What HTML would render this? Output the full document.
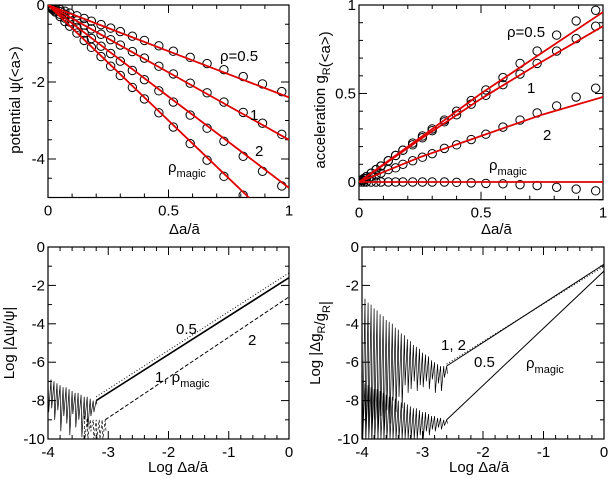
<!DOCTYPE html>
<html><head><meta charset="utf-8"><style>
body{margin:0;background:#fff}
svg{display:block;font-family:"Liberation Sans",sans-serif}
text{fill:#000}
</style></head><body>
<svg id="s" width="608" height="478" viewBox="0 0 608 478" xmlns="http://www.w3.org/2000/svg"></svg>
<script>
// ---- data ----
const circX=[0.01,0.02,0.03,0.05,0.07,0.09,0.12,0.15,0.18,0.22,0.26,0.30,0.35,0.40,0.46,0.52,0.59,0.66,0.73,0.81,0.89,0.97];
const psiC05=[-0.02,-0.05,-0.07,-0.12,-0.16,-0.21,-0.28,-0.35,-0.42,-0.51,-0.6,-0.69,-0.81,-0.92,-1.06,-1.2,-1.36,-1.52,-1.68,-1.86,-2.05,-2.25];
const psiC1=[-0.03,-0.07,-0.1,-0.17,-0.24,-0.31,-0.41,-0.52,-0.62,-0.76,-0.9,-1.04,-1.21,-1.38,-1.59,-1.79,-2.03,-2.28,-2.52,-2.79,-3.07,-3.36];
const psiC2=[-0.05,-0.1,-0.15,-0.24,-0.34,-0.44,-0.58,-0.73,-0.87,-1.07,-1.26,-1.46,-1.7,-1.94,-2.23,-2.52,-2.86,-3.2,-3.54,-3.93,-4.32,-4.7];
const psiCmag=[-0.06,-0.12,-0.18,-0.3,-0.43,-0.55,-0.73,-0.92,-1.1,-1.34,-1.59,-1.83,-2.14,-2.44,-2.8,-3.17,-3.6,-4.03,-4.45,-4.94];
const lineX=[0,0.25,0.5,0.75,1];
const psiL05=[0,-0.6,-1.2,-1.8,-2.4];
const psiL1=[0,-0.875,-1.75,-2.625,-3.5];
const psiL2=[0,-1.19,-2.38,-3.56,-4.75];
const psiLmag=[0,-1.5,-3.0,-4.5,-6.0];
const gC05=[0.01,0.02,0.03,0.05,0.07,0.09,0.12,0.15,0.18,0.22,0.26,0.3,0.35,0.4,0.46,0.52,0.59,0.67,0.74,0.83,0.91,0.97];
const gC1=[0.01,0.02,0.03,0.05,0.07,0.09,0.12,0.15,0.18,0.21,0.25,0.29,0.34,0.38,0.44,0.49,0.55,0.61,0.67,0.74,0.81,0.88];
const gC2=[0.01,0.01,0.02,0.03,0.04,0.05,0.07,0.08,0.1,0.12,0.14,0.16,0.19,0.21,0.24,0.27,0.31,0.35,0.39,0.43,0.48,0.53];
const gCmag=[0,0,0,0,0,0,0,0,0,0,0,0,0,-0.002,-0.005,-0.008,-0.01,-0.015,-0.02,-0.03,-0.04,-0.05];
const gL05=[0,0.25,0.5,0.73,0.96];
const gL1=[0,0.24,0.47,0.68,0.88];
const gL2=[0,0.14,0.26,0.38,0.48];
const gLmag=[0,0,0,0,0];
// bottom-left
const blLineX=[-3.2,0];
const blSolid=[-8.0,-1.6];
const blDot=[-7.8,-1.35];
const blDashX=[-3.05,0];
const blDash=[-9.0,-2.6];
const blNoiseX=[-4,-3.95,-3.9,-3.85,-3.8,-3.75,-3.7,-3.65,-3.6,-3.55,-3.5,-3.45,-3.4,-3.35,-3.3,-3.25,-3.2];
const blNoiseHi=[-6.7,-6.9,-7.0,-7.1,-7.2,-7.3,-7.3,-7.4,-7.5,-7.6,-7.6,-7.7,-7.8,-7.8,-7.9,-8.0,-8.0];
const blNoiseLo=[-8.6,-8.4,-9.0,-8.5,-9.6,-8.8,-9.2,-9.8,-8.7,-9.4,-9.0,-9.9,-9.0,-9.4,-8.8,-8.6,-8.2];
const blDNoiseX=[-3.4,-3.35,-3.3,-3.25,-3.2,-3.15,-3.1,-3.05];
const blDNoiseHi=[-8.8,-8.9,-9.0,-9.0,-9.0,-9.0,-9.0,-9.0];
const blDNoiseLo=[-10,-10,-9.6,-10,-10,-10,-10,-9.6];
// bottom-right
const brLineX=[-2.6,0];
const brUpper=[-6.2,-0.9];
const brDot=[-6.1,-1.0];
const brLower=[-9.0,-1.25];
const brNoiseX=[-4,-3.95,-3.9,-3.85,-3.8,-3.75,-3.7,-3.65,-3.6,-3.55,-3.5,-3.45,-3.4,-3.35,-3.3,-3.25,-3.2,-3.15,-3.1,-3.05,-3.0,-2.95,-2.9,-2.85,-2.8,-2.75,-2.7,-2.65,-2.6];
const brUHi=[-2.4,-2.7,-2.9,-3.0,-3.2,-3.3,-3.5,-3.6,-3.8,-3.9,-4.0,-4.2,-4.3,-4.5,-4.6,-4.8,-4.9,-5.1,-5.2,-5.3,-5.5,-5.6,-5.7,-5.9,-6.0,-6.1,-6.2,-6.2,-6.2];
const brULo=[-10,-10,-9.5,-10,-9,-10,-8.8,-10,-8.5,-9.2,-8,-8.6,-7.8,-8.4,-7.2,-7.6,-7.4,-7,-7.5,-7.2,-7.3,-7.0,-7.4,-6.9,-7.6,-7.1,-7.5,-6.8,-6.6];
const brLHi=[-7.0,-7.1,-7.2,-7.3,-7.4,-7.4,-7.5,-7.6,-7.7,-7.8,-7.8,-7.9,-8.0,-8.1,-8.1,-8.2,-8.3,-8.4,-8.4,-8.5,-8.6,-8.6,-8.7,-8.8,-8.8,-8.9,-8.9,-9.0,-9.0];
const brLLo=[-10,-10,-10,-10,-10,-10,-10,-10,-10,-10,-10,-10,-10,-10,-10,-10,-10,-10,-10,-9.8,-10,-9.6,-9.8,-9.5,-9.6,-9.4,-9.5,-9.3,-9.2];
const tlXTicks=["0","0.5","1"], tlYTicks=["-4","-2","0"];
const trXTicks=["0","0.5","1"], trYTicks=["0","0.5","1"];
const bXTicks=["-4","-3","-2","-1","0"], bYTicks=["-10","-8","-6","-4","-2","0"];

// ---- drawing ----
const S=document.getElementById('s');
const NS="http://www.w3.org/2000/svg";
function mk(tag,at,parent){const e=document.createElementNS(NS,tag);for(const k in at)e.setAttribute(k,at[k]);(parent||S).appendChild(e);return e;}
function panel(name,x0,x1,y0,y1,px0,px1,py0,py1){
  const g=mk('g',{});
  
  
  const sx=v=>px0+(v-x0)/(x1-x0)*(px1-px0);
  const sy=v=>py0+(v-y0)/(y1-y0)*(py1-py0);
  const clip=mk('clipPath',{id:name+'-clip'},g);
  mk('rect',{x:px0,y:Math.min(sy(y0),sy(y1)),width:px1-px0,height:Math.abs(sy(y1)-sy(y0))},clip);
  return {g,sx,sy,x0,x1,y0,y1,clip:'url(#'+name+'-clip)'};
}
function frame(P,xMaj,xMin,yMaj,yMin,xLab,yLab){
  const L=P.sx(P.x0),R=P.sx(P.x1),T=P.sy(P.y1),B=P.sy(P.y0);
  const ax=mk('g',{stroke:'#000','stroke-width':1},P.g);
  
  
  const nx=Math.round((P.x1-P.x0)/xMin);
  for(let i=0;i<=nx;i++){const v=P.x0+i*xMin;const X=P.sx(v);const maj=Math.abs(Math.round(v/xMaj)*xMaj-v)<1e-6;const l=maj?8:4;
    mk('line',{x1:X,y1:B,x2:X,y2:B-l},ax);mk('line',{x1:X,y1:T,x2:X,y2:T+l},ax);}
  const ny=Math.round((P.y1-P.y0)/yMin);
  for(let i=0;i<=ny;i++){const v=P.y0+i*yMin;const Y=P.sy(v);const maj=Math.abs(Math.round(v/yMaj)*yMaj-v)<1e-6;const l=maj?8:4;
    mk('line',{x1:L,y1:Y,x2:L+l,y2:Y},ax);mk('line',{x1:R,y1:Y,x2:R-l,y2:Y},ax);}
  const fr=mk('rect',{x:L,y:T,width:R-L,height:B-T,fill:'none',stroke:'#000','stroke-width':1.2},P.g);
  
  
  xLab.forEach(t=>{const v=parseFloat(t);const e=mk('text',{x:P.sx(v),y:B+18,'text-anchor':'middle','font-size':15},P.g);e.textContent=t;
    
    });
  yLab.forEach(t=>{const v=parseFloat(t);const e=mk('text',{x:L-3,y:P.sy(v)+5,'text-anchor':'end','font-size':15},P.g);e.textContent=t;
    
    });
}
function line(P,xs,ys,at,name){
  const d=xs.map((x,i)=>(i?'L':'M')+P.sx(x).toFixed(1)+','+P.sy(ys[i]).toFixed(1)).join('');
  const e=mk('path',Object.assign({d,fill:'none','clip-path':P.clip},at),P.g);
  
  
}
function circles(P,xs,ys,name){
  const g=mk('g',{'clip-path':P.clip},P.g);
  
  
  ys.forEach((y,i)=>{const c=mk('circle',{cx:P.sx(xs[i]),cy:P.sy(y),r:4.2,fill:'none',stroke:'#000','stroke-width':1},g);
    
    });
}
function noise(P,xs,hi,lo,at,name){
  const pts=[];xs.forEach((x,i)=>{pts.push([x,hi[i]]);pts.push([x+0.012,lo[i]]);});
  line(P,pts.map(p=>p[0]),pts.map(p=>p[1]),at,name);
}
function label(x,y,html,size,name,rot){
  const t=mk('text',{x,y,'font-size':size||15,'text-anchor':rot?'middle':'start'});
  if(rot)t.setAttribute('transform','rotate(-90 '+x+' '+y+')');
  t.innerHTML=html;
  
  
}
const sub=(s)=>'<tspan font-size="11" dy="5">'+s+'</tspan><tspan dy="-5"></tspan>';

// top-left
const TL=panel('potential-panel',0,1,-5,0,48,289,197.5,5);
frame(TL,0.5,0.1,2,0.5,tlXTicks,tlYTicks);
const red={stroke:'#e00000','stroke-width':1.8};
[[psiC05,'circles-rho-0.5'],[psiC1,'circles-rho-1'],[psiC2,'circles-rho-2'],[psiCmag,'circles-rho-magic']].forEach(a=>circles(TL,circX,a[0],a[1]));
[[psiL05,'line-rho-0.5'],[psiL1,'line-rho-1'],[psiL2,'line-rho-2'],[psiLmag,'line-rho-magic']].forEach(a=>line(TL,lineX,a[0],red,a[1]));
label(220,61,'ρ=0.5',15,'label-rho-0.5');
label(250,120,'1',15,'label-rho-1');
label(255,156,'2',15,'label-rho-2');
label(168,172,'ρ'+sub('magic'),15,'label-rho-magic');
label(169,234,'Δa/ā',15,'x-axis-title');
label(20,100,'potential ψ(&lt;a&gt;)',15,'y-axis-title',true);

// top-right
const TR=panel('acceleration-panel',0,1,-0.1,1,359,603,199.7,5);
frame(TR,0.5,0.1,0.5,0.1,trXTicks,trYTicks);
[[gC05,'circles-rho-0.5'],[gC1,'circles-rho-1'],[gC2,'circles-rho-2'],[gCmag,'circles-rho-magic']].forEach(a=>circles(TR,circX,a[0],a[1]));
[[gL05,'line-rho-0.5'],[gL1,'line-rho-1'],[gL2,'line-rho-2'],[gLmag,'line-rho-magic']].forEach(a=>line(TR,lineX,a[0],red,a[1]));
label(507,37,'ρ=0.5',15,'label-rho-0.5');
label(527,93,'1',15,'label-rho-1');
label(543,140,'2',15,'label-rho-2');
label(489,170,'ρ'+sub('magic'),15,'label-rho-magic');
label(481,234,'Δa/ā',15,'x-axis-title');
label(325,100,'acceleration g'+sub('R')+'(&lt;a&gt;)',15,'y-axis-title',true);

// bottom-left
const BL=panel('psi-error-panel',-4,0,-10,0,48,289,439,247);
frame(BL,1,0.2,2,1,bXTicks,bYTicks);
const blk={stroke:'#000','stroke-width':1};
noise(BL,blNoiseX,blNoiseHi,blNoiseLo,{stroke:'#000','stroke-width':0.7},'noise-psi');
noise(BL,blDNoiseX,blDNoiseHi,blDNoiseLo,{stroke:'#000','stroke-width':0.7,'stroke-dasharray':'3,2'},'noise-psi-2');
line(BL,blLineX,blDot,{stroke:'#000','stroke-width':1,'stroke-dasharray':'1,2'},'line-0.5');
line(BL,blLineX,blSolid,{stroke:'#000','stroke-width':1.6},'line-1-magic');
line(BL,blDashX,blDash,{stroke:'#000','stroke-width':1,'stroke-dasharray':'4,2'},'line-2');
label(176,334,'0.5',15,'label-0.5');
label(248,345,'2',15,'label-2');
label(155,382,'1, ρ'+sub('magic'),15,'label-1-magic');
label(148,472,'Log Δa/ā',15,'x-axis-title');
label(14,343,'Log |Δψ/ψ|',15,'y-axis-title',true);

// bottom-right
const BR=panel('g-error-panel',-4,0,-10,0,362,604,439,247);
frame(BR,1,0.2,2,1,bXTicks,bYTicks);
noise(BR,brNoiseX,brUHi,brULo,{stroke:'#000','stroke-width':0.7},'noise-g-upper');
noise(BR,brNoiseX,brLHi,brLLo,{stroke:'#000','stroke-width':0.7},'noise-g-lower');
line(BR,brLineX,brDot,{stroke:'#000','stroke-width':1,'stroke-dasharray':'1,2'},'line-0.5');
line(BR,brLineX,brUpper,blk,'line-1-2');
line(BR,brLineX,brLower,blk,'line-magic');
label(441,350,'1, 2',15,'label-1-2');
label(474,367,'0.5',15,'label-0.5');
label(526,368,'ρ'+sub('magic'),15,'label-rho-magic');
label(449,472,'Log Δa/ā',15,'x-axis-title');
label(320,343,'Log |Δg'+sub('R')+'/g'+sub('R')+'|',15,'y-axis-title',true);
</script>
</body></html>
